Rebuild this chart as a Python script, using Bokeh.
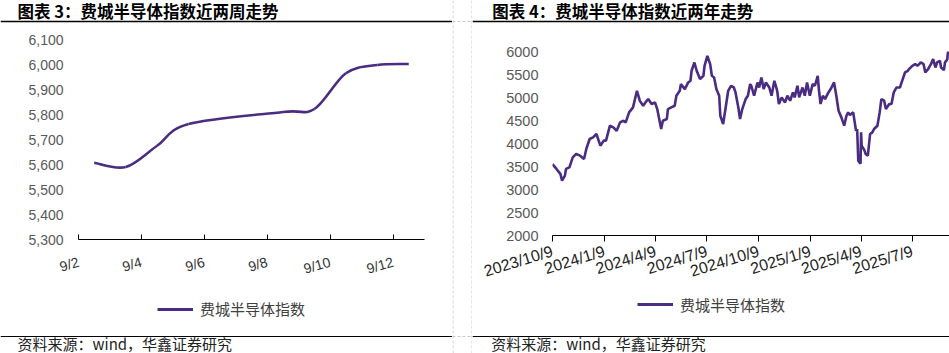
import pandas as pd
from bokeh.plotting import figure
from bokeh.models import (Range1d, FixedTicker, SingleIntervalTicker, NumeralTickFormatter,
                          Label, Legend, LegendItem, ColumnDataSource)
from bokeh.layouts import row, column
from bokeh.embed import file_html
from bokeh.resources import INLINE

# ---------------- data ----------------
left_title = "图表 3：费城半导体指数近两周走势"
right_title = "图表 4：费城半导体指数近两年走势"
series_name = "费城半导体指数"
source_note = "资料来源：wind，华鑫证券研究"

left_dates = ["9/2", "9/3", "9/4", "9/5", "9/8", "9/9", "9/10", "9/11", "9/12"]
left_values = [5607, 5590, 5675, 5762, 5810, 5822, 5965, 5998, 6002]
left_tick_labels = ["9/2", "9/4", "9/6", "9/8", "9/10", "9/12"]

right_dates = [
    "2023-10-09", "2023-10-16", "2023-10-23", "2023-10-26", "2023-10-31", "2023-11-02",
    "2023-11-08", "2023-11-14", "2023-11-20", "2023-11-27", "2023-12-04", "2023-12-08",
    "2023-12-14", "2023-12-20", "2023-12-26", "2024-01-02", "2024-01-08", "2024-01-12",
    "2024-01-19", "2024-01-25", "2024-01-31", "2024-02-06", "2024-02-12", "2024-02-16",
    "2024-02-22", "2024-02-29", "2024-03-07", "2024-03-12", "2024-03-18", "2024-03-22",
    "2024-03-27", "2024-04-02", "2024-04-08", "2024-04-12", "2024-04-19", "2024-04-22",
    "2024-04-29", "2024-05-01", "2024-05-07", "2024-05-13", "2024-05-16", "2024-05-22",
    "2024-05-24", "2024-05-31", "2024-06-06", "2024-06-10", "2024-06-12", "2024-06-17",
    "2024-06-21", "2024-06-27", "2024-07-03", "2024-07-05", "2024-07-10", "2024-07-15",
    "2024-07-18", "2024-07-22", "2024-07-26", "2024-07-31", "2024-08-02", "2024-08-07",
    "2024-08-12", "2024-08-16", "2024-08-21", "2024-08-26", "2024-08-29", "2024-09-03",
    "2024-09-06", "2024-09-10", "2024-09-16", "2024-09-20", "2024-09-24", "2024-09-26",
    "2024-10-01", "2024-10-07", "2024-10-10", "2024-10-14", "2024-10-18", "2024-10-22",
    "2024-10-28", "2024-11-01", "2024-11-06", "2024-11-11", "2024-11-14", "2024-11-19",
    "2024-11-25", "2024-11-29", "2024-12-04", "2024-12-09", "2024-12-12", "2024-12-17",
    "2024-12-20", "2024-12-26", "2024-12-30", "2025-01-03", "2025-01-08", "2025-01-13",
    "2025-01-17", "2025-01-22", "2025-01-24", "2025-01-27", "2025-01-31", "2025-02-04",
    "2025-02-10", "2025-02-14", "2025-02-20", "2025-02-24", "2025-02-28", "2025-03-05",
    "2025-03-10", "2025-03-14", "2025-03-17", "2025-03-20", "2025-03-26", "2025-03-31",
    "2025-04-02", "2025-04-04", "2025-04-08", "2025-04-09", "2025-04-10", "2025-04-15",
    "2025-04-17", "2025-04-21", "2025-04-25", "2025-04-29", "2025-05-02", "2025-05-08",
    "2025-05-12", "2025-05-15", "2025-05-20", "2025-05-23", "2025-05-29", "2025-06-02",
    "2025-06-06", "2025-06-11", "2025-06-17", "2025-06-20", "2025-06-26", "2025-07-01",
    "2025-07-03", "2025-07-09", "2025-07-14", "2025-07-18", "2025-07-24", "2025-07-29",
    "2025-08-01", "2025-08-06", "2025-08-11", "2025-08-15", "2025-08-19", "2025-08-22",
    "2025-08-27", "2025-08-29", "2025-09-02", "2025-09-03", "2025-09-04", "2025-09-05",
    "2025-09-08", "2025-09-09", "2025-09-10", "2025-09-11", "2025-09-12",
]
right_values = [
    3550, 3447, 3339, 3194, 3302, 3447,
    3482, 3700, 3773, 3736, 3664, 3881,
    4098, 4133, 4207, 3953, 4062, 4062,
    4387, 4350, 4278, 4459, 4495, 4459,
    4676, 4785, 5146, 4930, 4821, 4893,
    4966, 4858, 4893, 4749, 4315, 4495,
    4532, 4749, 4785, 4821, 5038, 5146,
    5291, 5183, 5327, 5364, 5581, 5761,
    5581, 5400, 5472, 5689, 5906, 5725,
    5472, 5436, 5183, 5038, 4604, 4423,
    4821, 5146, 5255, 5218, 5110, 4785,
    4532, 4749, 4966, 5038, 5291, 5255,
    5038, 5327, 5218, 5436, 5183, 5327,
    5218, 5038, 5364, 5146, 4858, 5002,
    4893, 5038, 4930, 5110, 5002, 5255,
    5002, 5218, 5038, 5327, 5038, 5291,
    5255, 5472, 5183, 4858, 5038, 4966,
    5110, 5183, 5327, 5038, 4713, 4568,
    4387, 4604, 4676, 4620, 4676, 4278,
    4315, 3620, 3560, 4242, 3953, 3850,
    3773, 3736, 4207, 4242, 4315, 4387,
    4676, 4966, 4930, 4749, 4858, 4858,
    5110, 5218, 5218, 5327, 5544, 5581,
    5617, 5689, 5725, 5689, 5761, 5725,
    5544, 5617, 5725, 5834, 5653, 5761,
    5797, 5650, 5607, 5590, 5677, 5763,
    5810, 5822, 5965, 5998, 6002,
]
right_tick_dates = ["2023-10-09", "2024-01-09", "2024-04-09", "2024-07-09",
                    "2024-10-09", "2025-01-09", "2025-04-09", "2025-07-09"]
right_tick_labels = ["2023/10/9", "2024/1/9", "2024/4/9", "2024/7/9",
                     "2024/10/9", "2025/1/9", "2025/4/9", "2025/7/9"]

# ---------------- style ----------------
PURPLE = "#4A2C82"
CJK = "Noto Sans CJK SC"
LAT = "Liberation Sans"
SEP = "#C8C8C8"
H_HEAD, H_CHART, H_FOOT = 25, 265, 63


def blank(width, height):
    f = figure(width=width, height=height, x_range=Range1d(0, width), y_range=Range1d(height, 0),
               output_backend="svg", toolbar_location=None, min_border=0,
               x_axis_location=None, y_axis_location=None, frame_align=False)
    f.grid.visible = False
    f.outline_line_color = None
    return f


def header(width, title, title_x):
    h = blank(width, H_HEAD)
    h.add_layout(Label(x=title_x, y=10, text=title, text_font=CJK, text_font_size="16.5px",
                       text_font_style="bold", text_baseline="middle", text_color="black"))
    h.segment(x0=[0], y0=[21], x1=[width], y1=[21], line_color="black", line_width=1.5)
    return h


def footer(width, legend_x, legend_y_from_bottom, source_x, sx, sy):
    f = blank(width, H_FOOT)
    # the series is hosted here only so the legend can show its line style; it lies outside the view
    host = f.line(x=sx, y=sy, line_color=PURPLE, line_width=2.8)
    leg = Legend(items=[LegendItem(label=series_name, renderers=[host])],
                 location=(legend_x, legend_y_from_bottom),
                 orientation="horizontal", glyph_width=36, glyph_height=16, label_height=16,
                 label_standoff=7, padding=0, margin=0, spacing=0, border_line_color=None,
                 background_fill_alpha=0, label_text_font=CJK, label_text_font_size="15px",
                 label_text_color="#404040")
    f.add_layout(leg)
    f.segment(x0=[0], y0=[46], x1=[width], y1=[46], line_color="black", line_width=1.2)
    f.add_layout(Label(x=source_x, y=53, text=source_note, text_font=CJK,
                       text_font_size="15px", text_baseline="middle", text_color="#222222"))
    return f


# ---------------- left chart ----------------
left_days = [float(d.split("/")[1]) for d in left_dates]
n = len(left_days)
pts = list(zip(left_days, left_values))
bx0, by0, bx1, by1, cx0, cy0, cx1, cy1 = [], [], [], [], [], [], [], []
for i in range(n - 1):
    p0 = pts[i - 1] if i > 0 else pts[i]
    pa = pts[i]
    pb = pts[i + 1]
    p3 = pts[i + 2] if i + 2 < n else pts[i + 1]
    bx0.append(pa[0]); by0.append(pa[1])
    bx1.append(pb[0]); by1.append(pb[1])
    cx0.append(pa[0] + (pb[0] - p0[0]) / 6.0); cy0.append(pa[1] + (pb[1] - p0[1]) / 6.0)
    cx1.append(pb[0] - (p3[0] - pa[0]) / 6.0); cy1.append(pb[1] - (p3[1] - pa[1]) / 6.0)

p1 = figure(width=452, height=H_CHART, x_range=Range1d(1.5, 12.5), y_range=Range1d(5300, 6100),
            output_backend="svg", toolbar_location=None, frame_align=False,
            min_border_left=78, min_border_right=28, min_border_top=14, min_border_bottom=51)
src1 = ColumnDataSource(dict(x0=bx0, y0=by0, x1=bx1, y1=by1, cx0=cx0, cy0=cy0, cx1=cx1, cy1=cy1))
p1.bezier(x0="x0", y0="y0", x1="x1", y1="y1", cx0="cx0", cy0="cy0", cx1="cx1", cy1="cy1",
          source=src1, line_color=PURPLE, line_width=2.6)

left_tick_pos = [float(t.split("/")[1]) - 0.5 for t in left_tick_labels]
p1.xaxis.ticker = FixedTicker(ticks=left_tick_pos)
p1.xaxis.major_label_overrides = {pos: lab for pos, lab in zip(left_tick_pos, left_tick_labels)}
p1.xaxis.major_label_orientation = 0.28
p1.xaxis.major_tick_in = 5
p1.xaxis.major_tick_out = 0
p1.xaxis.minor_tick_line_color = None
p1.xaxis.axis_line_color = "black"
p1.xaxis.major_tick_line_color = "black"
p1.xaxis.major_label_text_font = LAT
p1.xaxis.major_label_text_font_size = "14px"
p1.xaxis.major_label_text_color = "#333333"
p1.xaxis.major_label_standoff = 22

p1.yaxis.ticker = SingleIntervalTicker(interval=100)
p1.yaxis.formatter = NumeralTickFormatter(format="0,0")
p1.yaxis.axis_line_color = None
p1.yaxis.major_tick_line_color = None
p1.yaxis.minor_tick_line_color = None
p1.yaxis.major_tick_in = 0
p1.yaxis.major_tick_out = 0
p1.yaxis.major_label_standoff = 11
p1.yaxis.major_label_text_font = LAT
p1.yaxis.major_label_text_font_size = "14px"
p1.yaxis.major_label_text_color = "#595959"
p1.grid.visible = False
p1.outline_line_color = None

# ---------------- right chart ----------------
rd = pd.to_datetime(right_dates)
p2 = figure(width=477, height=H_CHART, x_axis_type="datetime",
            x_range=Range1d(pd.Timestamp("2023-10-09"), pd.Timestamp("2025-09-13")),
            y_range=Range1d(2000, 6000),
            output_backend="svg", toolbar_location=None, frame_align=False,
            min_border_left=80, min_border_right=0, min_border_top=26, min_border_bottom=55)
src2 = ColumnDataSource(dict(x=rd, y=right_values))
p2.line(x="x", y="y", source=src2, line_color=PURPLE, line_width=2.6)

tick_ms = [float(pd.Timestamp(d).value // 10**6) for d in right_tick_dates]
p2.xaxis.ticker = FixedTicker(ticks=tick_ms)
p2.xaxis.major_label_overrides = {t: lab for t, lab in zip(tick_ms, right_tick_labels)}
p2.xaxis.major_label_orientation = 0.3
p2.xaxis.major_tick_in = 0
p2.xaxis.major_tick_out = 6
p2.xaxis.minor_tick_line_color = None
p2.xaxis.axis_line_color = "black"
p2.xaxis.major_tick_line_color = "black"
p2.xaxis.major_label_text_font = LAT
p2.xaxis.major_label_text_font_size = "16px"
p2.xaxis.major_label_text_color = "#222222"
p2.xaxis.major_label_standoff = 9

p2.yaxis.ticker = SingleIntervalTicker(interval=500)
p2.yaxis.formatter = NumeralTickFormatter(format="0")
p2.yaxis.axis_line_color = None
p2.yaxis.major_tick_line_color = None
p2.yaxis.minor_tick_line_color = None
p2.yaxis.major_tick_in = 0
p2.yaxis.major_tick_out = 0
p2.yaxis.major_label_standoff = 10
p2.yaxis.major_label_text_font = LAT
p2.yaxis.major_label_text_font_size = "14.5px"
p2.yaxis.major_label_text_color = "#595959"
p2.grid.visible = False
p2.outline_line_color = None

# ---------------- assemble ----------------
h1 = header(452, left_title, 17)
f1 = footer(452, 157, 34, 17, left_days, left_values)
h2 = header(477, right_title, 19.7)
f2 = footer(477, 165, 38.5, 18.7, list(range(len(right_values))), right_values)

sep = blank(20, 353)
sep.segment(x0=[0.5, 19.5], y0=[0, 0], x1=[0.5, 19.5], y1=[353, 353],
            line_color=SEP, line_width=1, line_dash="3 2")
sep.segment(x0=[0, 0], y0=[21, 336], x1=[20, 20], y1=[21, 336],
            line_color=SEP, line_width=1, line_dash="3 2")

layout = row(column(h1, p1, f1), sep, column(h2, p2, f2))
open("out.html", "w").write(file_html(layout, INLINE))
